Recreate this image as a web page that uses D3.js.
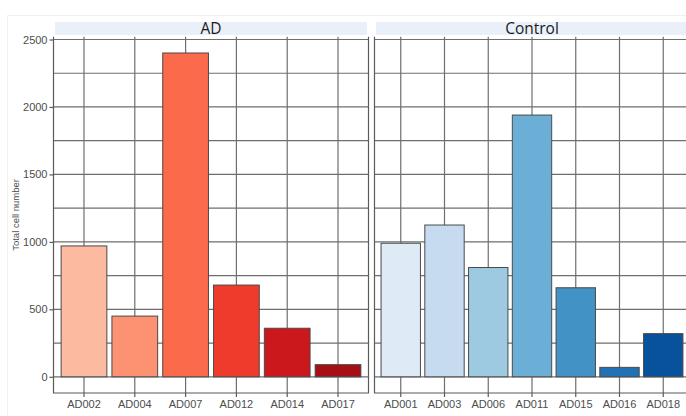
<!DOCTYPE html>
<html>
<head>
<meta charset="utf-8">
<script src="https://cdn.jsdelivr.net/npm/d3@7"></script>
<style>
  html, body { margin: 0; padding: 0; background: #fff; }
  svg { display: block; }
</style>
</head>
<body>
<svg id="chart" width="686" height="416"></svg>
<script>
// Total cell counts per sample, split by group
const adSamples = ["AD002", "AD004", "AD007", "AD012", "AD014", "AD017"];
const adCounts = [970, 450, 2400, 680, 360, 90];
const adColors = ["#fcbba1", "#fc9272", "#fb6a4a", "#ef3b2c", "#cb181d", "#a50f15"];

const controlSamples = ["AD001", "AD003", "AD006", "AD011", "AD015", "AD016", "AD018"];
const controlCounts = [990, 1125, 810, 1940, 660, 70, 320];
const controlColors = ["#deebf7", "#c6dbef", "#9ecae1", "#6baed6", "#4292c6", "#2171b5", "#08519c"];

const groupNames = ["AD", "Control"];
const yTicks = [0, 500, 1000, 1500, 2000, 2500];
const yGridValues = [0, 250, 500, 750, 1000, 1250, 1500, 1750, 2000, 2250, 2500];
const yTitle = "Total cell number";

const svg = d3.select("#chart");

// faint outer frame
svg.append("rect")
  .attr("x", 7.5).attr("y", 15.5).attr("width", 690).attr("height", 420)
  .attr("fill", "none").attr("stroke", "#f0f0f0").attr("stroke-width", 1);

const panelTop = 36.8, panelBottom = 393;
const y = d3.scaleLinear().domain([-120, 2520]).range([panelBottom, panelTop]);

const panels = [
  { name: groupNames[0], samples: adSamples, counts: adCounts, colors: adColors, x0: 53.5, x1: 368.5 },
  { name: groupNames[1], samples: controlSamples, counts: controlCounts, colors: controlColors, x0: 374.5, x1: 689.5 }
];

const gridColor = "#6e6e6e";
const borderColor = "#5a5a5a";

panels.forEach((p, pi) => {
  const x = d3.scaleBand()
    .domain(p.samples)
    .range([p.x0, p.x1])
    .paddingInner(0.1)
    .paddingOuter(0.15);

  const g = svg.append("g");

  // strip
  g.append("rect")
    .attr("x", p.x0 + 1.5).attr("y", 22)
    .attr("width", (p.x1 - p.x0) - 3).attr("height", 13)
    .attr("fill", "#e9f0f9");
  g.append("text")
    .attr("x", (p.x0 + p.x1) / 2).attr("y", 34)
    .attr("text-anchor", "middle")
    .attr("font-family", "'Open Sans', 'Liberation Sans', Arial, sans-serif")
    .attr("font-size", 15.5)
    .attr("fill", "#1a1a1a")
    .text(p.name);

  // horizontal grid lines
  g.selectAll("line.hg").data(yGridValues).join("line")
    .attr("class", "hg")
    .attr("x1", p.x0).attr("x2", p.x1)
    .attr("y1", d => y(d)).attr("y2", d => y(d))
    .attr("stroke", gridColor).attr("stroke-width", 1.2);

  // vertical grid lines
  g.selectAll("line.vg").data(p.samples).join("line")
    .attr("class", "vg")
    .attr("x1", d => x(d) + x.bandwidth() / 2).attr("x2", d => x(d) + x.bandwidth() / 2)
    .attr("y1", panelTop).attr("y2", panelBottom)
    .attr("stroke", gridColor).attr("stroke-width", 1.2);

  // bars
  g.selectAll("rect.bar").data(p.samples.map((s, i) => ({ s, v: p.counts[i], c: p.colors[i] })))
    .join("rect")
    .attr("class", "bar")
    .attr("x", d => x(d.s))
    .attr("width", x.bandwidth())
    .attr("y", d => y(d.v))
    .attr("height", d => y(0) - y(d.v))
    .attr("fill", d => d.c)
    .attr("stroke", "#4a4a4a").attr("stroke-width", 1);

  // panel border (left, right, bottom)
  g.append("path")
    .attr("d", `M${p.x0},${panelTop}V${panelBottom}H${p.x1}V${panelTop}`)
    .attr("fill", "none").attr("stroke", borderColor).attr("stroke-width", 1.2);

  // x axis
  const xAxis = g.append("g")
    .attr("transform", `translate(0,${panelBottom})`)
    .call(d3.axisBottom(x).tickSize(4).tickSizeOuter(0).tickPadding(3));
  xAxis.select(".domain").remove();
  xAxis.selectAll(".tick line").attr("stroke", borderColor).attr("stroke-width", 1.2);
  xAxis.selectAll(".tick text")
    .attr("font-family", "'Liberation Sans', Arial, sans-serif")
    .attr("font-size", 11)
    .attr("fill", "#4d4d4d");

  // y axis on the first panel only
  if (pi === 0) {
    const yAxis = g.append("g")
      .attr("transform", `translate(${p.x0},0)`)
      .call(d3.axisLeft(y).tickValues(yTicks).tickFormat(d3.format("d")).tickSize(4).tickPadding(2));
    yAxis.select(".domain").remove();
    yAxis.selectAll(".tick line").attr("stroke", borderColor).attr("stroke-width", 1.2);
    yAxis.selectAll(".tick text")
      .attr("font-family", "'Liberation Sans', Arial, sans-serif")
      .attr("font-size", 11)
      .attr("fill", "#4d4d4d");
  }
});

// y axis title
svg.append("text")
  .attr("transform", `translate(19,${(panelTop + panelBottom) / 2}) rotate(-90)`)
  .attr("text-anchor", "middle")
  .attr("font-family", "'Liberation Sans', Arial, sans-serif")
  .attr("font-size", 9.5)
  .attr("fill", "#4d4d4d")
  .text(yTitle);
</script>
</body>
</html>
